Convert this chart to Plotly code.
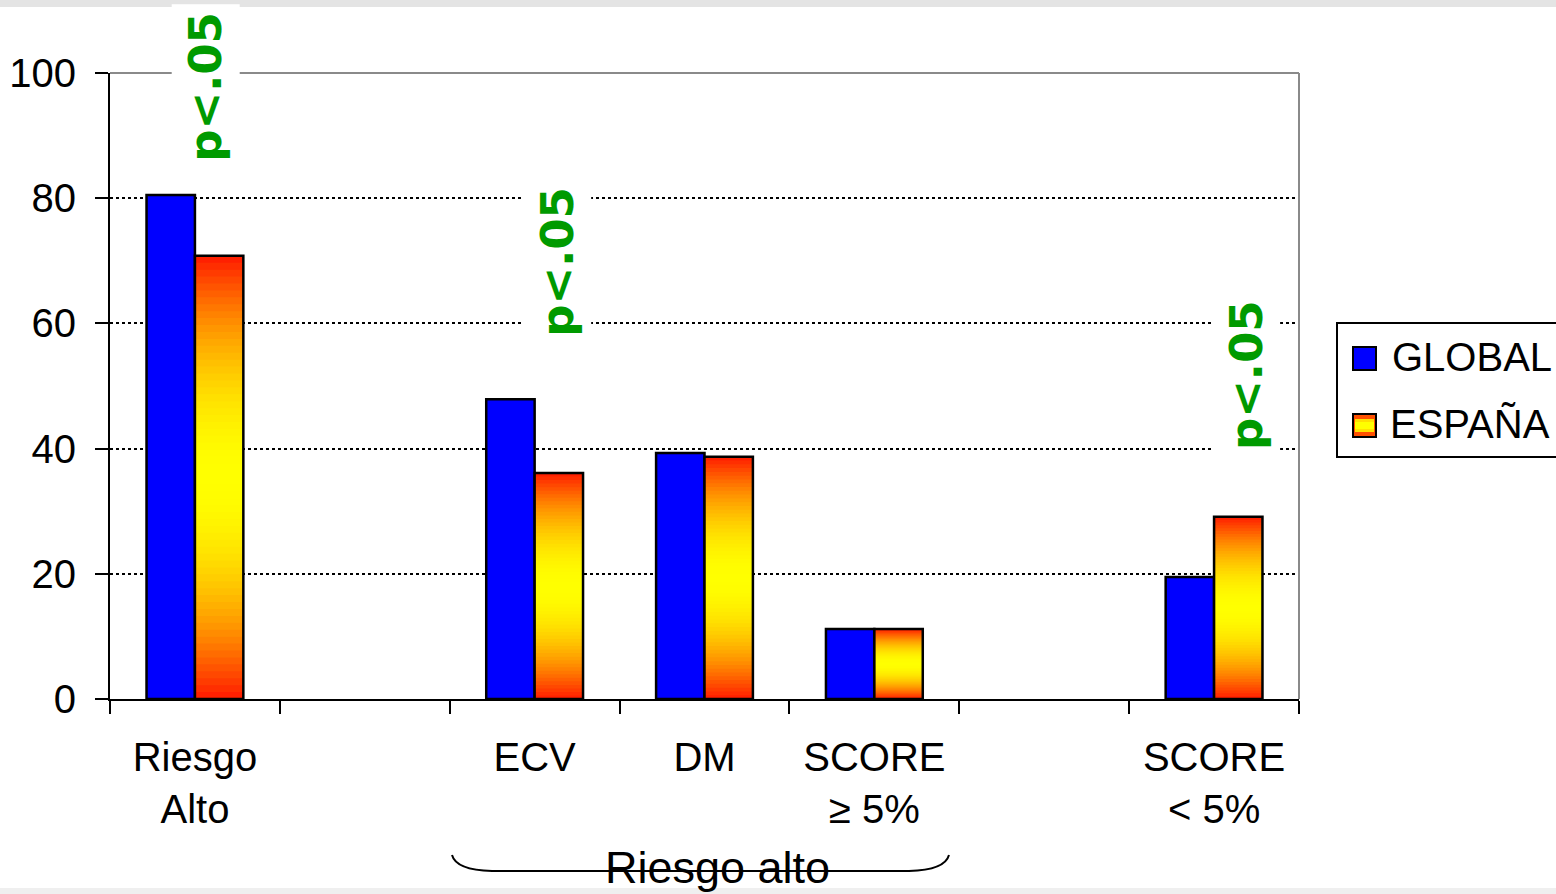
import plotly.graph_objects as go

# ---------------- data ----------------
categories = ["Riesgo<br>Alto", "", "ECV", "DM", "SCORE<br>≥ 5%", "", "SCORE<br>< 5%"]
global_vals = [80.5, None, 47.9, 39.3, 11.2, None, 19.5]
espana_vals = [70.8, None, 36.1, 38.7, 11.2, None, 29.1]
series_names = ["GLOBAL", "ESPAÑA"]
y_ticks = [0, 20, 40, 60, 80, 100]
sig_label = "p<.05"
sig_positions = [(0.065, 97.8), (2.13, 69.8), (6.19, 51.8)]
brace_label = "Riesgo alto"

# ---------------- layout constants ----------------
W, H = 1556, 894
L, R, T, B = 110, 1299, 73, 699
FONT = "Liberation Sans, Arial, sans-serif"
BAR_W = 0.285

def px(xp):
    return (xp - L) / (R - L)

def py(yp):
    return (B - yp) / (B - T)

xpos = list(range(len(categories)))

fig = go.Figure()

# GLOBAL bars
fig.add_trace(go.Bar(
    x=xpos, y=global_vals, offset=-BAR_W, width=BAR_W,
    marker=dict(color="#0000FF", line=dict(color="black", width=2.5)),
    name=series_names[0], showlegend=False, hoverinfo="skip"))

# ESPAÑA bars: vertical gradient red (edges) -> yellow (middle) built from overlaid bars
N = 32
for k in range(N):
    f = (N - k) / N
    g = int(round(32 + 223 * (1 - f ** 2)))
    color = f"rgb(255,{g},0)"
    bases = [None if v is None else v * (1 - f) / 2 for v in espana_vals]
    heights = [None if v is None else v * f for v in espana_vals]
    fig.add_trace(go.Bar(
        x=xpos, y=heights, base=bases, offset=0, width=BAR_W,
        marker=dict(color=color, line=dict(width=0)),
        showlegend=False, hoverinfo="skip"))

# ESPAÑA outline
fig.add_trace(go.Bar(
    x=xpos, y=espana_vals, offset=0, width=BAR_W,
    marker=dict(color="rgba(0,0,0,0)", line=dict(color="black", width=2.5)),
    name=series_names[1], showlegend=False, hoverinfo="skip"))

shapes = []
# top gray band and bottom band (background decoration)
shapes.append(dict(type="rect", xref="paper", yref="paper", x0=px(0), x1=px(W), y0=py(0), y1=py(7),
                   fillcolor="#e4e4e4", line=dict(width=0), layer="below"))
shapes.append(dict(type="rect", xref="paper", yref="paper", x0=px(0), x1=px(W), y0=py(888), y1=py(H),
                   fillcolor="#efefef", line=dict(width=0), layer="below"))
# gray top and right frame lines
shapes.append(dict(type="line", xref="paper", yref="paper", x0=0, x1=1, y0=1, y1=1,
                   line=dict(color="#8a8a8a", width=2)))
shapes.append(dict(type="line", xref="paper", yref="paper", x0=1, x1=1, y0=0, y1=1,
                   line=dict(color="#8a8a8a", width=2)))

# brace under ECV..SCORE>=5%
def P(a, b):
    return f"{px(a):.5f},{py(b):.5f}"
brace_path = (f"M {P(452,855)} Q {P(456,870)} {P(492,871)} L {P(909,871)} "
              f"Q {P(945,870)} {P(949,855)}")
shapes.append(dict(type="path", xref="paper", yref="paper", path=brace_path,
                   line=dict(color="black", width=2)))

# manual legend
shapes.append(dict(type="rect", xref="paper", yref="paper", x0=px(1337), x1=px(1600),
                   y0=py(323), y1=py(457), line=dict(color="black", width=2), fillcolor="white"))
shapes.append(dict(type="rect", xref="paper", yref="paper", x0=px(1353), x1=px(1376),
                   y0=py(347), y1=py(370), fillcolor="#0000FF", line=dict(color="black", width=2)))
shapes.append(dict(type="rect", xref="paper", yref="paper", x0=px(1353), x1=px(1376),
                   y0=py(414), y1=py(437), fillcolor="#FF5000", line=dict(color="black", width=2)))
shapes.append(dict(type="rect", xref="paper", yref="paper", x0=px(1355), x1=px(1374),
                   y0=py(419), y1=py(432), fillcolor="#FFE000", line=dict(width=0)))
shapes.append(dict(type="rect", xref="paper", yref="paper", x0=px(1355), x1=px(1374),
                   y0=py(422), y1=py(429), fillcolor="#FFFF00", line=dict(width=0)))

annotations = []
for (ax, ay) in sig_positions:
    annotations.append(dict(x=ax, y=ay, xref="x", yref="y", text=sig_label, textangle=-90,
                            showarrow=False, bgcolor="white", borderpad=7,
                            font=dict(family="DejaVu Sans", size=45, color="#009a00", weight="bold")))
annotations.append(dict(x=px(717), y=py(867), xref="paper", yref="paper", text=brace_label,
                        showarrow=False, font=dict(family=FONT, size=45, color="black"),
                        xanchor="center", yanchor="middle"))
annotations.append(dict(x=px(1390), y=py(357), xref="paper", yref="paper", text=series_names[0],
                        showarrow=False, xanchor="left", yanchor="middle",
                        font=dict(family=FONT, size=40, color="black")))
annotations.append(dict(x=px(1388), y=py(424), xref="paper", yref="paper", text=series_names[1],
                        showarrow=False, xanchor="left", yanchor="middle",
                        font=dict(family=FONT, size=40, color="black")))

fig.update_layout(
    width=W, height=H, autosize=False,
    margin=dict(l=L, r=W - R, t=T, b=H - B, pad=0, autoexpand=False),
    plot_bgcolor="white", paper_bgcolor="white",
    barmode="overlay", showlegend=False,
    shapes=shapes, annotations=annotations,
    font=dict(family=FONT, size=40, color="black"),
)
fig.update_xaxes(
    range=[-0.5, len(categories) - 0.5], tickmode="array", tickvals=xpos, ticktext=categories,
    ticks="", showgrid=False, zeroline=False, showline=True, linecolor="black", linewidth=2,
    tickfont=dict(family=FONT, size=40, color="black"), ticklabelstandoff=22, automargin=False,
    minor=dict(tickmode="array", tickvals=[i - 0.5 for i in range(len(categories) + 1)],
               ticks="outside", ticklen=13, tickwidth=2, tickcolor="black", showgrid=False),
)
fig.update_yaxes(
    range=[0, 100], tickmode="array", tickvals=y_ticks, ticks="outside", ticklen=13,
    tickwidth=2, tickcolor="black", showline=True, linecolor="black", linewidth=2,
    showgrid=True, gridcolor="black", gridwidth=2, griddash="dot", zeroline=False,
    tickfont=dict(family=FONT, size=40, color="black"), ticklabelstandoff=11, automargin=False,
)

fig.write_html("out.html", config={"displayModeBar": False},
               post_script="document.body.style.margin='0';")
